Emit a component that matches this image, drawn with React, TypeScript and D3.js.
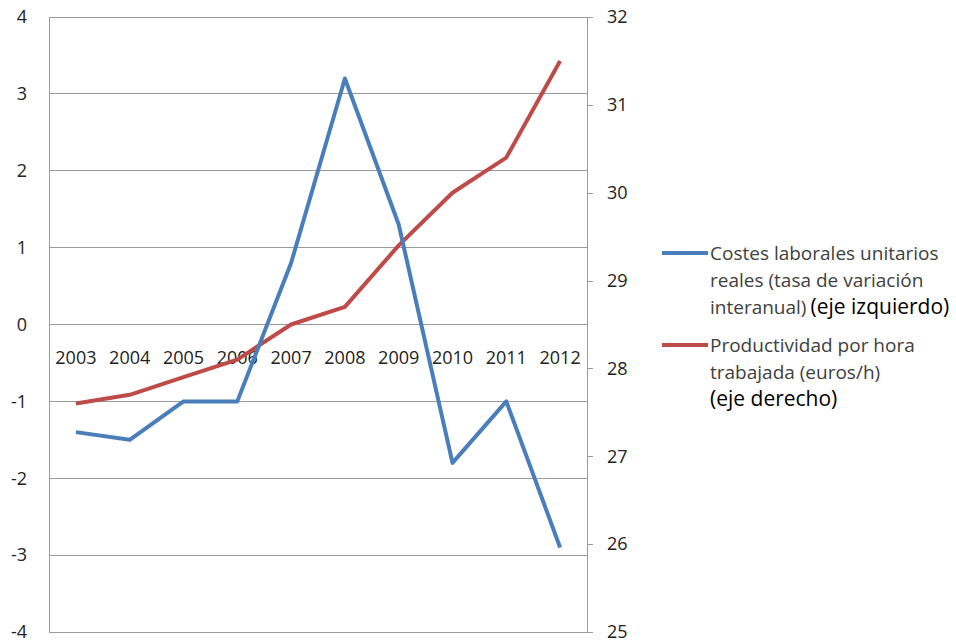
import { useEffect, useRef } from 'react';
import * as d3 from 'd3';

const years = ['2003', '2004', '2005', '2006', '2007', '2008', '2009', '2010', '2011', '2012'];
const costesValues = [-1.4, -1.5, -1.0, -1.0, 0.8, 3.2, 1.3, -1.8, -1.0, -2.9];
const productividadValues = [27.6, 27.7, 27.9, 28.1, 28.5, 28.7, 29.4, 30.0, 30.4, 31.5];
const leftTicks = [-4, -3, -2, -1, 0, 1, 2, 3, 4];
const rightTicks = [25, 26, 27, 28, 29, 30, 31, 32];

const BLUE = '#4a7ebb';
const RED = '#be4b48';
const FONT = '"Open Sans", sans-serif';

export default function App() {
  const svgRef = useRef<SVGSVGElement>(null);

  useEffect(() => {
    if (!svgRef.current) return;
    const svg = d3.select(svgRef.current);
    svg.selectAll('*').remove();

    const margin = { top: 17, right: 369, bottom: 12, left: 49 };
    const width = 956;
    const height = 644;
    const innerW = width - margin.left - margin.right;
    const innerH = height - margin.top - margin.bottom;

    const x = d3.scaleBand().domain(years).range([0, innerW]);
    const yLeft = d3.scaleLinear().domain([-4, 4]).range([innerH, 0]);
    const yRight = d3.scaleLinear().domain([25, 32]).range([innerH, 0]);

    const g = svg.append('g').attr('transform', `translate(${margin.left},${margin.top})`);

    // gridlines
    g.append('g')
      .selectAll('line')
      .data(leftTicks)
      .join('line')
      .attr('x1', 0)
      .attr('x2', innerW)
      .attr('y1', d => yLeft(d))
      .attr('y2', d => yLeft(d))
      .attr('stroke', '#9a9a9a')
      .attr('stroke-width', 1)
      .attr('shape-rendering', 'crispEdges');

    // left axis line
    g.append('line')
      .attr('x1', 0).attr('x2', 0)
      .attr('y1', 0).attr('y2', innerH)
      .attr('stroke', '#9a9a9a')
      .attr('shape-rendering', 'crispEdges');

    // left tick labels
    g.append('g')
      .selectAll('text')
      .data(leftTicks)
      .join('text')
      .attr('x', -22)
      .attr('y', d => yLeft(d))
      .attr('dy', '0.35em')
      .attr('text-anchor', 'end')
      .attr('font-family', FONT)
      .attr('font-size', 18)
      .attr('fill', '#222')
      .text(d => String(d));

    // right axis
    const rightAxis = d3.axisRight(yRight)
      .tickValues(rightTicks)
      .tickSize(6)
      .tickPadding(14)
      .tickFormat(d => String(d));
    const ra = g.append('g')
      .attr('transform', `translate(${innerW},0)`)
      .call(rightAxis);
    ra.select('.domain').attr('stroke', '#9a9a9a').attr('d', `M0,0V${innerH}`);
    ra.selectAll('.tick line').attr('stroke', '#9a9a9a');
    ra.selectAll('.tick text')
      .attr('font-family', FONT)
      .attr('font-size', 18)
      .attr('fill', '#222');
    ra.attr('shape-rendering', 'crispEdges');

    // category labels below zero line
    g.append('g')
      .selectAll('text')
      .data(years)
      .join('text')
      .attr('x', d => (x(d) ?? 0) + x.bandwidth() / 2)
      .attr('y', yLeft(0) + 33)
      .attr('dy', '0.35em')
      .attr('text-anchor', 'middle')
      .attr('font-family', FONT)
      .attr('font-size', 18)
      .attr('fill', '#222')
      .text(d => d);

    const cx = (i: number) => (x(years[i]) ?? 0) + x.bandwidth() / 2;

    const lineLeft = d3.line<number>()
      .x((_, i) => cx(i))
      .y(d => yLeft(d));
    const lineRight = d3.line<number>()
      .x((_, i) => cx(i))
      .y(d => yRight(d));

    g.append('path')
      .datum(productividadValues)
      .attr('fill', 'none')
      .attr('stroke', RED)
      .attr('stroke-width', 4)
      .attr('stroke-linejoin', 'round')
      .attr('d', lineRight);

    g.append('path')
      .datum(costesValues)
      .attr('fill', 'none')
      .attr('stroke', BLUE)
      .attr('stroke-width', 4)
      .attr('stroke-linejoin', 'round')
      .attr('d', lineLeft);

    // legend
    const legend = svg.append('g').attr('font-family', FONT);
    const items = [
      { color: BLUE, y: 253, lines: ['Costes laborales unitarios', 'reales (tasa de variación', 'interanual)'], extra: '(eje izquierdo)', extraInline: true },
      { color: RED, y: 345, lines: ['Productividad por hora', 'trabajada (euros/h)'], extra: '(eje derecho)', extraInline: false },
    ];
    items.forEach(item => {
      legend.append('line')
        .attr('x1', 662).attr('x2', 708)
        .attr('y1', item.y).attr('y2', item.y)
        .attr('stroke', item.color)
        .attr('stroke-width', 4);
      item.lines.forEach((ln, i) => {
        const t = legend.append('text')
          .attr('x', 710)
          .attr('y', item.y + i * 27)
          .attr('dy', '0.35em')
          .attr('font-size', 19)
          .attr('fill', '#404040')
          .text(ln);
        if (item.extraInline && i === item.lines.length - 1) {
          t.append('tspan')
            .attr('dx', 4)
            .attr('font-size', 21)
            .attr('fill', '#000')
            .text(item.extra);
        }
      });
      if (!item.extraInline) {
        legend.append('text')
          .attr('x', 710)
          .attr('y', item.y + item.lines.length * 27)
          .attr('dy', '0.35em')
          .attr('font-size', 21)
          .attr('fill', '#000')
          .text(item.extra);
      }
    });
  }, []);

  return (
    <svg
      ref={svgRef}
      width={956}
      height={644}
      style={{ display: 'block', position: 'absolute', left: 0, top: 0, background: '#fff' }}
    />
  );
}
